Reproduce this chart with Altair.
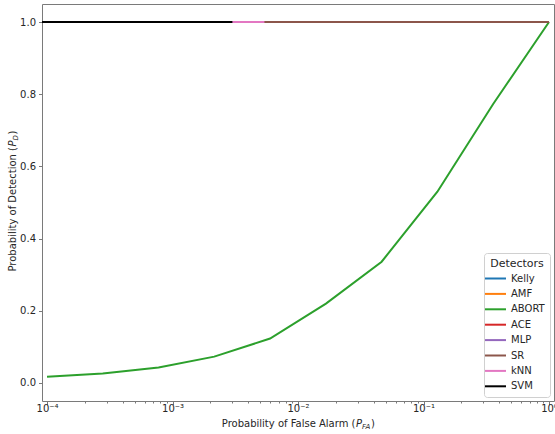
import altair as alt
import pandas as pd
import math

# ---------------- data ----------------
detectors = ["Kelly", "AMF", "ABORT", "ACE", "MLP", "SR", "kNN", "SVM"]
colors = ["#1f77b4", "#ff7f0e", "#2ca02c", "#d62728", "#9467bd", "#8c564b", "#e377c2", "#000000"]

kelly_pfa = [1e-5, 1.0]
kelly_pd = [1.0, 1.0]
amf_pfa = [1e-5, 1.0]
amf_pd = [1.0, 1.0]
abort_pfa = [1.0e-4, 2.78e-4, 7.74e-4, 2.15e-3, 5.99e-3, 1.67e-2, 4.64e-2, 1.29e-1, 3.59e-1, 1.0]
abort_pd = [0.017, 0.026, 0.043, 0.073, 0.123, 0.220, 0.336, 0.530, 0.773, 1.0]
ace_pfa = [1e-5, 1.0]
ace_pd = [1.0, 1.0]
mlp_pfa = [1e-5, 1.0]
mlp_pd = [1.0, 1.0]
sr_pfa = [1e-5, 1.0]
sr_pd = [1.0, 1.0]
knn_pfa = [1e-5, 5.4e-3]
knn_pd = [1.0, 1.0]
svm_pfa = [1e-5, 3.0e-3]
svm_pd = [1.0, 1.0]

series = {
    "Kelly": (kelly_pfa, kelly_pd),
    "AMF": (amf_pfa, amf_pd),
    "ABORT": (abort_pfa, abort_pd),
    "ACE": (ace_pfa, ace_pd),
    "MLP": (mlp_pfa, mlp_pd),
    "SR": (sr_pfa, sr_pd),
    "kNN": (knn_pfa, knn_pd),
    "SVM": (svm_pfa, svm_pd),
}

major_ticks = [1e-4, 1e-3, 1e-2, 1e-1, 1.0]
major_labels = ["10⁻⁴", "10⁻³", "10⁻²", "10⁻¹", "10⁰"]
minor_ticks = [m * d for d in [1e-4, 1e-3, 1e-2, 1e-1] for m in range(2, 10)]
y_ticks = [0.0, 0.2, 0.4, 0.6, 0.8, 1.0]

x_title_parts = ["Probability of False Alarm (", "P", "FA", ")"]
y_title_parts = ["Probability of Detection (", "P", "D", ")"]

rows = []
for name in detectors:
    xs, ys = series[name]
    for i, (a, b) in enumerate(zip(xs, ys)):
        rows.append({"detector": name, "pfa": a, "pd": b, "idx": i})
df = pd.DataFrame(rows)

# ---------------- scales / axes ----------------
FONT = "DejaVu Sans"
AX_COLOR = "#7a7a7a"
TXT = "#262626"

xscale = alt.Scale(type="log", domain=[9.12e-5, 1.096], nice=False)
yscale = alt.Scale(domain=[-0.05, 1.05], nice=False, zero=False)

label_expr_parts = []
for v, lab in zip(major_ticks, major_labels):
    label_expr_parts.append(
        f"abs(log(datum.value)/log(10) - ({math.log10(v)})) < 0.01 ? '{lab}'")
label_expr = " : ".join(label_expr_parts) + " : ''"

x_major_axis = alt.Axis(values=major_ticks, labelExpr=label_expr, title=None, grid=False,
                        orient="bottom", domain=False, tickSize=3.5, tickColor=AX_COLOR,
                        labelColor=TXT, labelFont=FONT, labelFontSize=10, labelPadding=-1,
                        labelFlush=False)
y_axis = alt.Axis(values=y_ticks, format=".1f", title=None, grid=False, domain=False,
                  orient="left", tickSize=3.5, tickColor=AX_COLOR, labelColor=TXT,
                  labelFont=FONT, labelFontSize=10, labelPadding=3)

legend = alt.Legend(title="Detectors", orient="bottom-right", offset=4,
                    symbolType="M-2,0H2", symbolStrokeWidth=2, symbolSize=110,
                    labelFont=FONT, labelFontSize=10, labelColor=TXT, labelOffset=9,
                    titleFont=FONT, titleFontSize=11, titleFontWeight="normal", titleColor=TXT,
                    titleAnchor="middle", titleAlign="center", titlePadding=3,
                    rowPadding=3.4, padding=5, strokeColor="#d0d0d0", fillColor="white",
                    cornerRadius=3)

color_scale = alt.Scale(domain=detectors, range=colors)


def line_layer(name):
    return alt.Chart(df).transform_filter(alt.datum.detector == name).mark_line(
        strokeWidth=2, clip=True
    ).encode(
        x=alt.X("pfa:Q", scale=xscale, axis=x_major_axis),
        y=alt.Y("pd:Q", scale=yscale, axis=y_axis),
        color=alt.Color("detector:N", scale=color_scale, legend=legend),
        order=alt.Order("idx:Q"),
    )


lines = alt.layer(*[line_layer(n) for n in detectors])

minor = alt.Chart(df[df.detector == "ABORT"]).mark_point(opacity=0).encode(
    x=alt.X("pfa:Q", scale=xscale,
            axis=alt.Axis(values=minor_ticks, labels=False, title=None, grid=False, domain=False,
                          orient="bottom", tickSize=2, tickColor=AX_COLOR)),
    y=alt.Y("pd:Q", scale=yscale, axis=y_axis),
)


def txt(s, x, y, size=10, style="normal", angle=0, align="left", baseline="middle"):
    kw = dict(fontSize=size, font=FONT, color=TXT, align=align, baseline=baseline,
              fontStyle=style)
    if angle:
        kw["angle"] = angle
    return alt.Chart(pd.DataFrame({"t": [s]})).mark_text(**kw).encode(
        text="t:N", x=alt.value(x), y=alt.value(y))


# x title (plot coords)
XA = 313.5
XY = 420
x_title = [
    txt(x_title_parts[0], XA, XY, align="right"),
    txt(x_title_parts[1], XA + 0.5, XY, style="italic"),
    txt(x_title_parts[2], XA + 6.5, XY + 3, size=7, style="italic"),
    txt(x_title_parts[3], XA + 15.5, XY),
]
# y title (rotated, plot coords)
YX = -29
YA = 143
y_title = [
    txt(y_title_parts[0], YX, YA, angle=270, align="right"),
    txt(y_title_parts[1], YX, YA - 0.5, style="italic", angle=270),
    txt(y_title_parts[2], YX + 3, YA - 6.5, size=7, style="italic", angle=270),
    txt(y_title_parts[3], YX, YA - 12.5, angle=270),
]

chart = alt.layer(lines, minor, *x_title, *y_title).resolve_axis(x="independent").properties(
    width=512, height=397,
    autosize=alt.AutoSizeParams(type="none"),
    padding={"left": 42, "top": 4, "right": 1, "bottom": 33},
    background="white",
).configure_view(stroke=AX_COLOR, strokeWidth=1)

chart.save("out.html", embed_options={"renderer": "svg", "actions": False})
